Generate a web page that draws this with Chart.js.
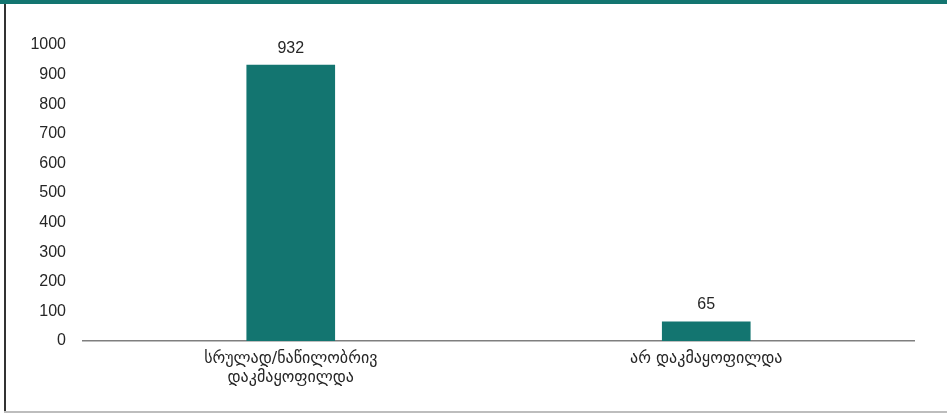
<!DOCTYPE html>
<html>
<head>
<meta charset="utf-8">
<script src="https://cdn.jsdelivr.net/npm/chart.js@4"></script>
<style>
  html, body { margin: 0; padding: 0; background: #fff; }
  #wrap { position: relative; width: 947px; height: 413px; overflow: hidden; }
  #stripe { position: absolute; left: 0; top: 0; width: 947px; height: 4px; background: #137570; }
  #leftLine { position: absolute; left: 4px; top: 4px; width: 1.5px; height: 408px; background: #333; }
  #bottomLine { position: absolute; left: 4px; top: 411px; width: 943px; height: 1.5px; background: #bdbdbd; }
  canvas { position: absolute; left: 0; top: 0; }
</style>
</head>
<body>
<div id="wrap">
  <canvas id="chart" width="947" height="413"></canvas>
  <div id="stripe"></div>
  <div id="leftLine"></div>
  <div id="bottomLine"></div>
</div>
<script>
const categories = [
  ['სრულად/ნაწილობრივ', 'დაკმაყოფილდა'],
  'არ დაკმაყოფილდა'
];
const counts = [932, 65];
const yTicks = [0, 100, 200, 300, 400, 500, 600, 700, 800, 900, 1000];

const teal = '#137570';
const fontFamily = '"Liberation Sans", Arial, "DejaVu Sans", sans-serif';

// writes the count above each bar
const valueLabels = {
  id: 'valueLabels',
  afterDatasetsDraw(chart) {
    const ctx = chart.ctx;
    const meta = chart.getDatasetMeta(0);
    ctx.save();
    ctx.fillStyle = '#262626';
    ctx.font = '16px ' + fontFamily;
    ctx.textAlign = 'center';
    ctx.textBaseline = 'middle';
    meta.data.forEach((bar, i) => {
      ctx.fillText(String(counts[i]), bar.x, bar.y - 17);
    });
    ctx.restore();
  }
};

new Chart(document.getElementById('chart').getContext('2d'), {
  type: 'bar',
  data: {
    labels: categories,
    datasets: [{
      data: counts,
      backgroundColor: teal,
      barThickness: 88
    }]
  },
  options: {
    responsive: false,
    animation: false,
    layout: { padding: { top: 45, right: 33, bottom: 20, left: 0 } },
    plugins: {
      legend: { display: false },
      tooltip: { enabled: false }
    },
    scales: {
      x: {
        grid: { display: false, drawTicks: false },
        border: { display: true, color: '#7f7f7f', width: 1.5 },
        ticks: {
          color: '#262626',
          font: { family: '"DejaVu Sans", sans-serif', size: 16 },
          padding: 8,
          maxRotation: 0
        },
        afterFit(scale) { scale.height = 52; }
      },
      y: {
        min: 0,
        max: 1000,
        grid: { display: false, drawTicks: false },
        border: { display: false },
        afterBuildTicks(scale) { scale.ticks = yTicks.map(v => ({ value: v })); },
        ticks: {
          color: '#262626',
          font: { family: fontFamily, size: 16 },
          padding: 17,
          callback: v => String(v)
        },
        afterFit(scale) { scale.width = 83; }
      }
    }
  },
  plugins: [valueLabels]
});
</script>
</body>
</html>
